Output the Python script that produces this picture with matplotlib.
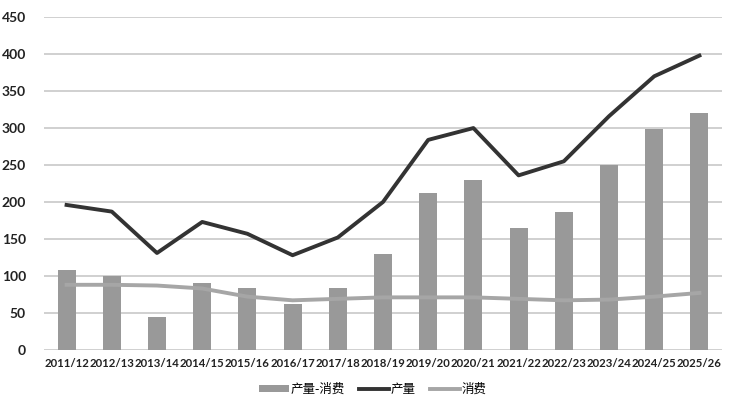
import numpy as np
import matplotlib.pyplot as plt

plt.rcParams['font.family'] = ['Lato', 'Noto Sans CJK SC', 'DejaVu Sans']

seasons = ["2011/12", "2012/13", "2013/14", "2014/15", "2015/16", "2016/17", "2017/18",
           "2018/19", "2019/20", "2020/21", "2021/22", "2022/23", "2023/24", "2024/25", "2025/26"]
surplus = [108, 100, 44, 91, 84, 62, 84, 129, 212, 230, 165, 186, 250, 299, 321]
production = [196, 187, 131, 173, 157, 128, 152, 200, 284, 300, 236, 255, 316, 370, 398]
consumption = [88, 88, 87, 83, 72, 67, 69, 71, 71, 71, 69, 67, 68, 72, 77]

x = np.arange(len(seasons))

fig = plt.figure(figsize=(7.33, 4.18), dpi=100)
ax = fig.add_axes([0.06, 0.163, 0.925, 0.796])

b = ax.bar(x, surplus, width=0.4, color="#999999", label="产量-消费", zorder=2)
l1, = ax.plot(x, production, color="#333333", linewidth=2.8, label="产量", zorder=3)
l2, = ax.plot(x, consumption, color="#a6a6a6", linewidth=2.8, label="消费", zorder=3)

ax.set_xlim(-0.5, len(seasons) - 0.5)
ax.set_ylim(0, 450)
ax.set_yticks(range(0, 451, 50))
ax.set_xticks(x)
ax.set_xticklabels(seasons)
ax.grid(axis="y", color="#c8c8c8", linewidth=1.2, zorder=0)
ax.set_axisbelow(True)
for s in ax.spines.values():
    s.set_visible(False)
ax.tick_params(length=0, labelsize=8.2, colors="#222222")
ax.tick_params(axis="x", pad=6)
ax.tick_params(axis="y", pad=13, labelsize=10)
for lbl in ax.get_xticklabels() + ax.get_yticklabels():
    lbl.set_fontweight("bold")

ax.legend([b, l1, l2], ["产量-消费", "产量", "消费"], loc="upper center",
          bbox_to_anchor=(0.485, -0.065), ncol=3, frameon=False,
          prop={"family": ["Noto Sans CJK SC", "DejaVu Sans"], "size": 9},
          handlelength=2.4, handleheight=0.5, columnspacing=1.1, handletextpad=0.15)

fig.savefig("out.png", dpi=100)
